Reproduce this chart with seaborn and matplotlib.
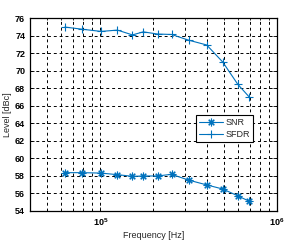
import numpy as np
import pandas as pd
import matplotlib
matplotlib.use("Agg")
import matplotlib.pyplot as plt
import seaborn as sns
from matplotlib.ticker import LogLocator, NullFormatter

freq = [63e3, 79e3, 101e3, 125e3, 152e3, 175e3, 211e3, 253e3, 316e3, 400e3, 493e3, 600e3, 693e3]
snr = [58.35, 58.35, 58.3, 58.12, 57.93, 57.97, 57.97, 58.16, 57.5, 56.95, 56.48, 55.7, 55.1]
sfdr = [75.0, 74.75, 74.5, 74.65, 74.1, 74.45, 74.2, 74.15, 73.5, 72.95, 71.0, 68.45, 67.05]
series_names = ["SNR", "SFDR"]
y_ticks = [54, 56, 58, 60, 62, 64, 66, 68, 70, 72, 74, 76]

df = pd.DataFrame({"freq": freq * 2, "level": snr + sfdr,
                   "series": [series_names[0]] * len(freq) + [series_names[1]] * len(freq)})

sns.set_style("ticks")
plt.rcParams["font.family"] = ["Liberation Sans", "DejaVu Sans"]
plt.rcParams["mathtext.fontset"] = "custom"
plt.rcParams["mathtext.rm"] = "Liberation Sans"
plt.rcParams["mathtext.bf"] = "Liberation Sans:bold"
plt.rcParams["xtick.direction"] = "in"
plt.rcParams["ytick.direction"] = "in"

fig = plt.figure(figsize=(2.92, 2.42), dpi=100)
ax = fig.add_axes([30 / 292, 1 - 210.7 / 242, 247 / 292, 192.4 / 242])

color = "#0072BD"
sns.lineplot(data=df, x="freq", y="level", hue="series", style="series",
             markers={"SNR": (8, 2, 0), "SFDR": "+"}, dashes=False,
             palette={"SNR": color, "SFDR": color}, ax=ax,
             linewidth=0.8, markersize=5.5, markeredgewidth=0.8, markeredgecolor=color)

ax.set_xscale("log")
ax.set_xlim(4e4, 1e6)
ax.set_ylim(54, 76)
ax.set_yticks(y_ticks)
ax.xaxis.set_major_locator(LogLocator(base=10, numticks=10))
ax.xaxis.set_minor_locator(LogLocator(base=10, subs=np.arange(2, 10), numticks=20))
ax.xaxis.set_minor_formatter(NullFormatter())

ax.grid(True, which="both", axis="x", color="black", linestyle=(0, (3, 3)), linewidth=0.7)
ax.grid(True, which="major", axis="y", color="black", linestyle=(0, (3, 3)), linewidth=0.7)
ax.set_axisbelow(True)

for s in ax.spines.values():
    s.set_visible(True)
    s.set_color("black")
    s.set_linewidth(0.9)
ax.tick_params(axis="both", which="both", top=True, right=True, labelsize=6.5,
               width=0.6, length=3, colors="black")
ax.tick_params(axis="x", which="minor", length=1.5)
ax.tick_params(axis="x", which="major", pad=4)
for lab in ax.get_xticklabels() + ax.get_yticklabels():
    lab.set_fontweight("bold")

ax.set_xlabel("Frequency [Hz]", fontsize=6.5, labelpad=2)
ax.set_ylabel("Level [dBc]", fontsize=6.5, labelpad=2)

leg = ax.legend(loc="upper left", bbox_to_anchor=(166 / 247, (210.7 - 115) / 192.4),
                fontsize=6.5, frameon=True, fancybox=False, edgecolor="black",
                framealpha=1, handlelength=2.6, borderpad=0.35, labelspacing=0.3,
                handletextpad=0.3, borderaxespad=0)
leg.get_frame().set_linewidth(0.8)

fig.savefig("out.png", dpi=100)
